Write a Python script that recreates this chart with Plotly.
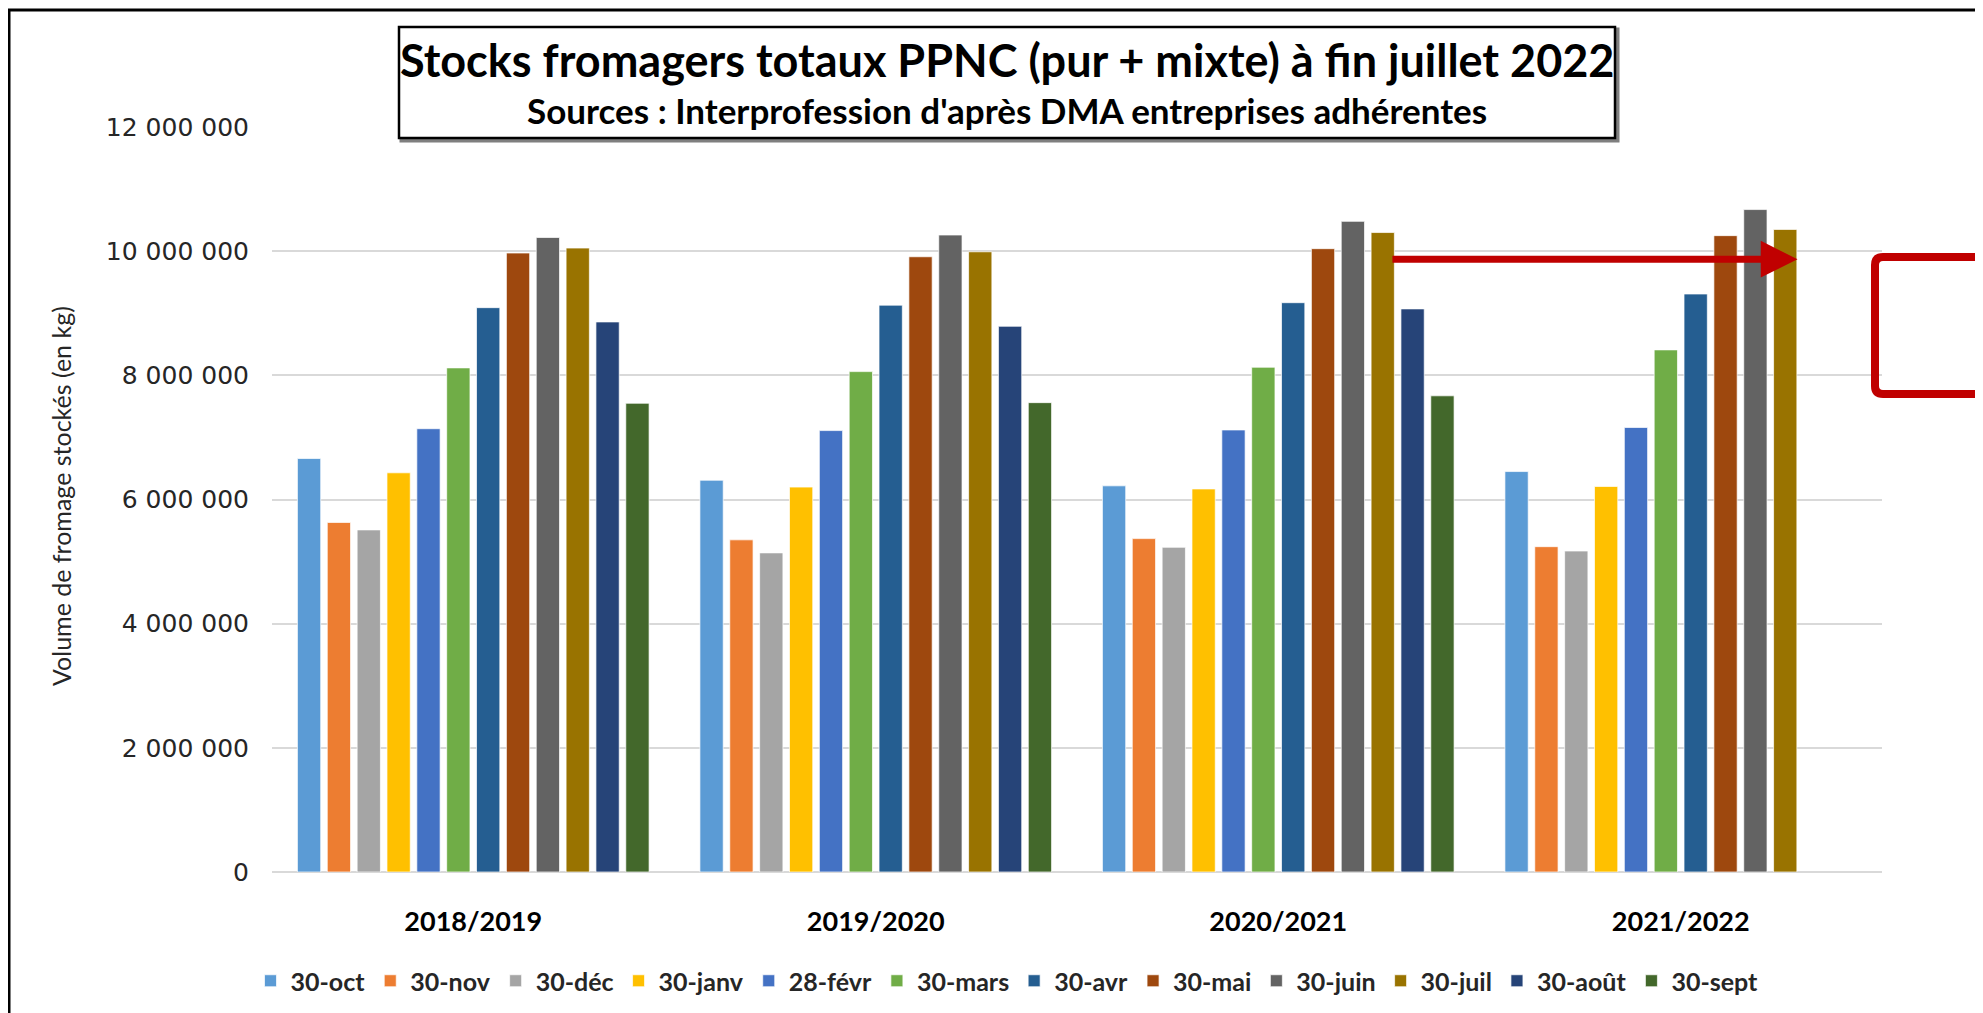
import plotly.graph_objects as go

# campagnes (x categories)
campagnes = ["2018/2019", "2019/2020", "2020/2021", "2021/2022"]

# stock at end of each month, kg
mois = ["30-oct", "30-nov", "30-déc", "30-janv", "28-févr", "30-mars",
        "30-avr", "30-mai", "30-juin", "30-juil", "30-août", "30-sept"]

stock_oct = [6_660_000, 6_310_000, 6_220_000, 6_450_000]
stock_nov = [5_630_000, 5_350_000, 5_370_000, 5_240_000]
stock_dec = [5_510_000, 5_140_000, 5_230_000, 5_170_000]
stock_janv = [6_430_000, 6_200_000, 6_170_000, 6_210_000]
stock_fevr = [7_140_000, 7_110_000, 7_120_000, 7_160_000]
stock_mars = [8_120_000, 8_060_000, 8_130_000, 8_410_000]
stock_avr = [9_090_000, 9_130_000, 9_170_000, 9_310_000]
stock_mai = [9_970_000, 9_910_000, 10_040_000, 10_250_000]
stock_juin = [10_220_000, 10_260_000, 10_480_000, 10_670_000]
stock_juil = [10_050_000, 9_990_000, 10_300_000, 10_350_000]
stock_aout = [8_860_000, 8_790_000, 9_070_000, None]
stock_sept = [7_550_000, 7_560_000, 7_670_000, None]

series = [stock_oct, stock_nov, stock_dec, stock_janv, stock_fevr, stock_mars,
          stock_avr, stock_mai, stock_juin, stock_juil, stock_aout, stock_sept]

couleurs = ["#5B9BD5", "#ED7D31", "#A5A5A5", "#FFC000", "#4472C4", "#70AD47",
            "#255E91", "#9E480E", "#636363", "#997300", "#264478", "#43682B"]

# red arrow: from juil 2020/2021 level to juil 2021/2022
arrow_y = 9_870_000
arrow_from = 2.28
arrow_to = 3.29

# page is drawn with an 8px body margin, so the figure is a bit smaller
W, H = 1975, 1005
ML, MR, MT, MB = 264, 101, 119, 141
PW, PH = W - ML - MR, H - MT - MB


def px_x(p):
    # page pixel -> paper x
    return (p - 272) / PW


def px_y(p):
    # page pixel -> paper y
    return (872 - p) / PH


fig = go.Figure()
for m, vals, c in zip(mois, series, couleurs):
    fig.add_bar(
        x=campagnes,
        y=vals,
        name=m,
        marker_color=c,
        marker_line=dict(color="rgba(255,255,255,0.7)", width=1),
    )

shapes = [
    # outer frame
    dict(type="rect", xref="paper", yref="paper",
         x0=px_x(9), x1=px_x(2100), y0=px_y(1100), y1=px_y(10),
         line=dict(color="black", width=3), fillcolor="rgba(0,0,0,0)",
         layer="above"),
    # title box shadow + box
    dict(type="rect", xref="paper", yref="paper",
         x0=px_x(401), x1=px_x(1618), y0=px_y(141), y1=px_y(29),
         line=dict(color="#7f7f7f", width=3), fillcolor="#7f7f7f",
         layer="above"),
    dict(type="rect", xref="paper", yref="paper",
         x0=px_x(399), x1=px_x(1615), y0=px_y(138), y1=px_y(27),
         line=dict(color="black", width=2.5), fillcolor="white",
         layer="above"),
]

# red rounded box on the right edge
x0, x1 = px_x(1875), px_x(2100)
yb, yt = px_y(394), px_y(257)
rx, ry = 8 / PW, 8 / PH
shapes.append(dict(
    type="path", xref="paper", yref="paper",
    path=(f"M{x1},{yt} L{x0 + rx},{yt} Q{x0},{yt} {x0},{yt - ry} "
          f"L{x0},{yb + ry} Q{x0},{yb} {x0 + rx},{yb} L{x1},{yb}"),
    line=dict(color="#C00000", width=8), layer="above",
))

annotations = [
    dict(text="<b>Stocks fromagers totaux PPNC (pur + mixte) à fin juillet 2022</b>",
         xref="paper", yref="paper", x=px_x(1007), y=px_y(60),
         xanchor="center", yanchor="middle", showarrow=False,
         font=dict(family="Lato", size=45, color="black")),
    dict(text="<b>Sources : Interprofession d'après DMA entreprises adhérentes</b>",
         xref="paper", yref="paper", x=px_x(1007), y=px_y(110),
         xanchor="center", yanchor="middle", showarrow=False,
         font=dict(family="Lato", size=35, color="black")),
    dict(text="Volume de fromage stockés (en kg)",
         xref="paper", yref="paper", x=px_x(61), y=px_y(496),
         xanchor="center", yanchor="middle", textangle=-90, showarrow=False,
         font=dict(family="Lato", size=25, color="#262626")),
    dict(x=arrow_to, y=arrow_y, ax=arrow_from, ay=arrow_y,
         xref="x", yref="y", axref="x", ayref="y", text="",
         showarrow=True, arrowhead=2, arrowsize=1.05, arrowwidth=7,
         arrowcolor="#C00000"),
]

fig.update_layout(
    width=W, height=H,
    margin=dict(l=ML, r=MR, t=MT, b=MB, autoexpand=False),
    paper_bgcolor="white", plot_bgcolor="white",
    barmode="group", bargap=0.11, bargroupgap=0.22,
    separators=", ",
    shapes=shapes,
    annotations=annotations,
    legend=dict(
        orientation="h", x=px_x(1007), y=px_y(981),
        xanchor="center", yanchor="middle",
        font=dict(family="Lato", size=25, color="#262626", weight="bold"),
        itemclick=False,
    ),
    font=dict(family="Lato"),
)
fig.update_xaxes(
    type="category",
    showgrid=False, showline=False, ticks="",
    tickfont=dict(family="Lato", size=27, color="black", weight="bold"),
    ticklabelstandoff=31,
)
fig.update_yaxes(
    range=[0, 12_000_000], dtick=2_000_000, tickformat=",d",
    showgrid=True, gridcolor="#D9D9D9", gridwidth=1.5,
    zeroline=True, zerolinecolor="#D9D9D9", zerolinewidth=1.5,
    showline=False, ticks="",
    tickfont=dict(family="DejaVu Sans", size=25, color="#262626"),
    ticklabelstandoff=22,
)

fig.write_html("out.html")
